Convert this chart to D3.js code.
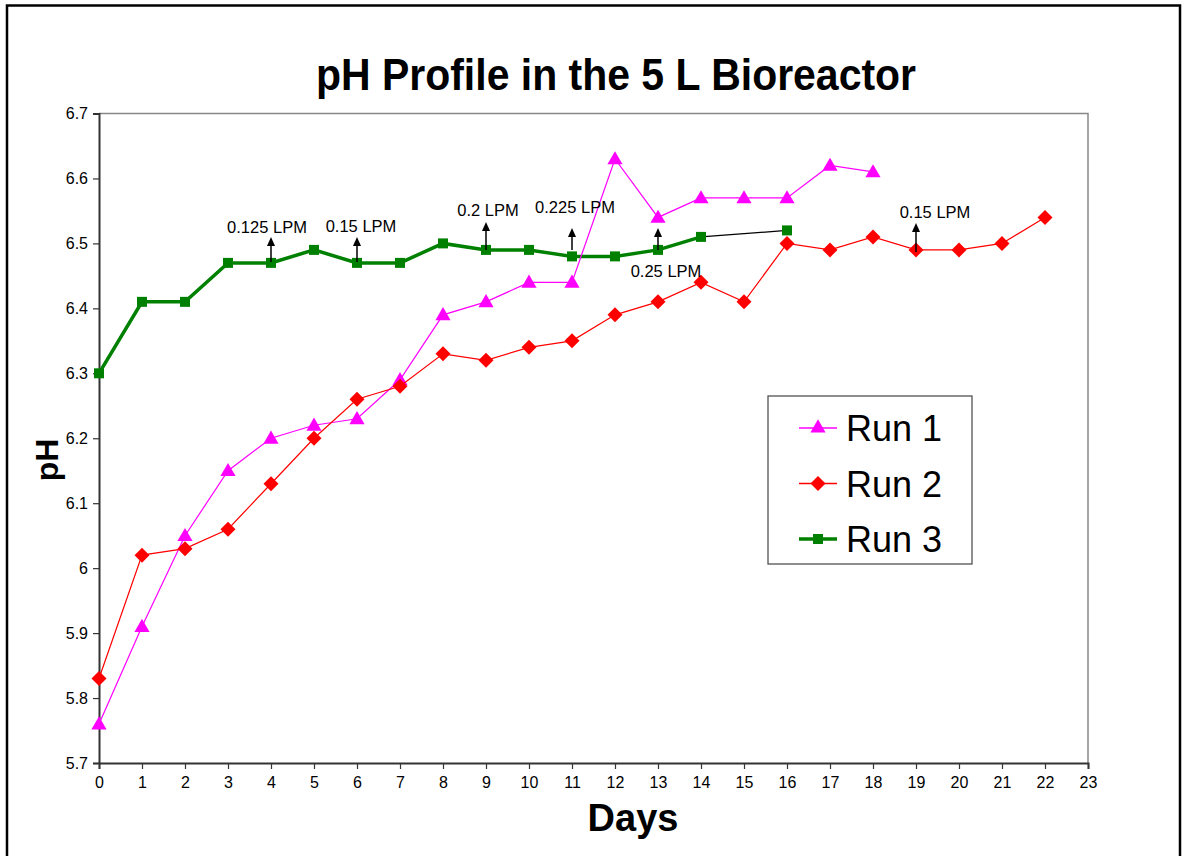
<!DOCTYPE html>
<html><head><meta charset="utf-8">
<script src="https://cdn.jsdelivr.net/npm/d3@7/dist/d3.min.js"></script>
<style>body{margin:0;background:#fff}svg{display:block;font-family:Arial,"Liberation Sans",sans-serif}</style>
</head><body>
<svg id="c" width="1185" height="856"></svg>
<script>
const days = d3.range(0, 24);
const yTicks = [5.7,5.8,5.9,6.0,6.1,6.2,6.3,6.4,6.5,6.6,6.7];
const run1 = [5.76,5.91,6.05,6.15,6.20,6.22,6.23,6.29,6.39,6.41,6.44,6.44,6.63,6.54,6.57,6.57,6.57,6.62,6.61];
const run2 = [5.83,6.02,6.03,6.06,6.13,6.20,6.26,6.28,6.33,6.32,6.34,6.35,6.39,6.41,6.44,6.41,6.50,6.49,6.51,6.49,6.49,6.50,6.54];
const run3 = [6.30,6.41,6.41,6.47,6.47,6.49,6.47,6.47,6.50,6.49,6.49,6.48,6.48,6.49,6.51];
const run3Gap = [[14,6.51],[16,6.52]];
const annoDays = [4,6,9,11,13,19];
const annoText = ["0.125 LPM","0.15 LPM","0.2 LPM","0.225 LPM","0.25 LPM","0.15 LPM"];

const svg = d3.select("#c");
const x = d3.scaleLinear().domain([0,23]).range([99,1088]);
const y = d3.scaleLinear().domain([5.7,6.7]).range([763,113.5]);

// outer frame
svg.append("rect").attr("x",7).attr("y",5.5).attr("width",1173).attr("height",870)
  .attr("fill","none").attr("stroke","#000").attr("stroke-width",2.5);

// plot border top/right
svg.append("path").attr("d",`M${x(0)},${y(6.7)}H${x(23)}V${y(5.7)}`)
  .attr("fill","none").attr("stroke","#888").attr("stroke-width",1.5);

// axes
const gx = svg.append("g").attr("transform",`translate(0,${y(5.7)})`)
  .call(d3.axisBottom(x).tickValues(days).tickSize(6).tickPadding(8).tickFormat(d3.format("d")));
const gy = svg.append("g").attr("transform",`translate(${x(0)},0)`)
  .call(d3.axisLeft(y).tickValues(yTicks).tickSize(6).tickPadding(5).tickFormat(d=>d3.format("")(+d.toFixed(1))));
[gx,gy].forEach(g=>{
  g.select(".domain").attr("stroke","#333").attr("stroke-width",2);
  g.selectAll(".tick line").attr("stroke","#333").attr("stroke-width",1.2);
  g.selectAll("text").attr("font-size",16).attr("fill","#000").attr("font-family","Arial, 'Liberation Sans', sans-serif");
});

// title & axis labels
svg.append("text").attr("x",316).attr("y",90)
  .attr("font-size",44).attr("font-weight","bold")
  .attr("textLength",600).attr("lengthAdjust","spacingAndGlyphs")
  .text("pH Profile in the 5 L Bioreactor");
svg.append("text").attr("x",633).attr("y",831).attr("text-anchor","middle")
  .attr("font-size",38).attr("font-weight","bold").text("Days");
svg.append("text").attr("transform","translate(58,460) rotate(-90)").attr("text-anchor","middle")
  .attr("font-size",32).attr("font-weight","bold").text("pH");

const line = d3.line().x(d=>x(d[0])).y(d=>y(d[1]));
const r1 = run1.map((v,i)=>[i,v]), r2 = run2.map((v,i)=>[i,v]), r3 = run3.map((v,i)=>[i,v]);

const tri = d3.symbol().type(d3.symbolTriangle).size(100);
const dia = "M0,-7.5L7.5,0L0,7.5L-7.5,0Z";
const sq = d3.symbol().type(d3.symbolSquare).size(100);

// run3 gap connector
svg.append("path").attr("d",line(run3Gap)).attr("fill","none").attr("stroke","#000").attr("stroke-width",1.2);

// run 3
svg.append("path").attr("d",line(r3)).attr("fill","none").attr("stroke","#008000").attr("stroke-width",3.5);
svg.selectAll(".m3").data(r3.concat([run3Gap[1]])).join("path").attr("d",sq)
  .attr("transform",d=>`translate(${x(d[0])},${y(d[1])})`).attr("fill","#008000");

// run 1
svg.append("path").attr("d",line(r1)).attr("fill","none").attr("stroke","#FF00FF").attr("stroke-width",1.2);
svg.selectAll(".m1").data(r1).join("path").attr("d",tri)
  .attr("transform",d=>`translate(${x(d[0])},${y(d[1])+1})`).attr("fill","#FF00FF");

// run 2
svg.append("path").attr("d",line(r2)).attr("fill","none").attr("stroke","#FF0000").attr("stroke-width",1.2);
svg.selectAll(".m2").data(r2).join("path").attr("d",dia)
  .attr("transform",d=>`translate(${x(d[0])},${y(d[1])})`).attr("fill","#FF0000");

// annotations
const arrowTop = [237,237,222,228,228,223];
const arrowBot = [262,262,250,250,250,252];
const labelX = [267,361,488,575,666,935];
const labelY = [233,232,216,213,277,218];
annoDays.forEach((d,i)=>{
  const ax = x(d);
  svg.append("line").attr("x1",ax).attr("x2",ax).attr("y1",arrowBot[i]).attr("y2",arrowTop[i]+6)
    .attr("stroke","#000").attr("stroke-width",1.5);
  svg.append("path").attr("d",`M${ax},${arrowTop[i]}L${ax-4},${arrowTop[i]+9}L${ax+4},${arrowTop[i]+9}Z`).attr("fill","#000");
  svg.append("text").attr("x",labelX[i]).attr("y",labelY[i]).attr("text-anchor","middle")
    .attr("font-size",16.5).text(annoText[i]);
});

// legend
const lg = svg.append("g");
lg.append("rect").attr("x",768).attr("y",396).attr("width",204).attr("height",168)
  .attr("fill","#fff").attr("stroke","#444").attr("stroke-width",1.2);
const legendNames = ["Run 1","Run 2","Run 3"];
const legendColors = ["#FF00FF","#FF0000","#008000"];
const legendWidths = [1.5,1.5,3.5];
const legendSyms = [tri(),dia,sq()];
legendNames.forEach((n,i)=>{
  const cy = 428 + i*55.5;
  lg.append("line").attr("x1",799).attr("x2",837).attr("y1",cy).attr("y2",cy)
    .attr("stroke",legendColors[i]).attr("stroke-width",legendWidths[i]);
  lg.append("path").attr("d",legendSyms[i]).attr("transform",`translate(818,${cy})`).attr("fill",legendColors[i]);
  lg.append("text").attr("x",846).attr("y",cy+13).attr("font-size",36).text(n);
});
</script>
</body></html>
